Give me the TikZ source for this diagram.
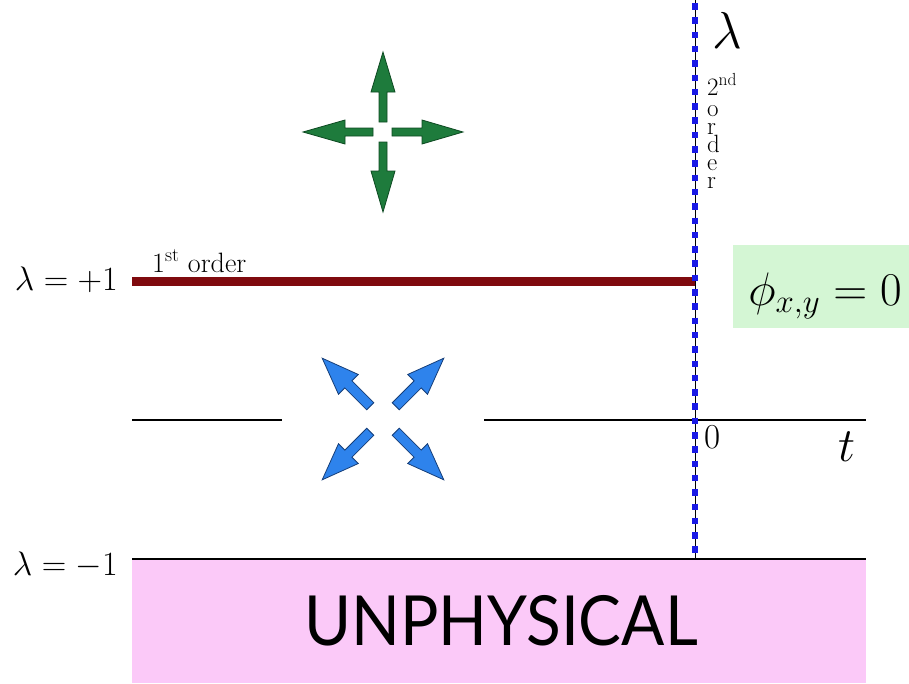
\RequirePackage{fix-cm}
\documentclass[tikz,border=0pt]{standalone}
\usepackage{fontspec}
\newfontfamily\gillish{Lato}
\usetikzlibrary{calc}
\definecolor{darkred}{HTML}{7F0A0E}
\definecolor{dotblue}{HTML}{1A1AE6}
\definecolor{greenarrow}{HTML}{1E7B3C}
\definecolor{greenedge}{HTML}{0E4A22}
\definecolor{bluearrow}{HTML}{2E83EC}
\definecolor{blueedge}{HTML}{163E78}
\definecolor{phibox}{HTML}{D4F6D4}
\definecolor{unphys}{HTML}{FBC9F8}
\tikzset{
  axisline/.style={line width=2pt, black},
  firstorder/.style={line width=9pt, darkred},
  lbl/.style={inner sep=0pt, anchor=east, font=\fontsize{34}{38}\selectfont},
  garrow/.style={fill=greenarrow, draw=greenedge, line width=0.8pt, line join=miter},
  barrow/.style={fill=bluearrow, draw=blueedge, line width=0.8pt, line join=miter},
}
% arrow shape: along +x from tail to tip
\newcommand{\fatarrow}[8]{% center, angle, tail, base, tip, half shaft, half head, style
  \begin{scope}[shift={#1}, rotate=#2]
    \path[#8] (#3,-#6) -- (#4,-#6) -- (#4,-#7) -- (#5,0) -- (#4,#7) -- (#4,#6) -- (#3,#6) -- cycle;
  \end{scope}}
\begin{document}
\begin{tikzpicture}[x=1pt,y=-1pt]
\useasboundingbox (0,0) rectangle (909,683);
% unphysical region
\node[fill=unphys, minimum width=734pt, minimum height=124pt, inner sep=0pt, anchor=north west] (unph) at (132,559) {};
\node[font=\gillish\fontsize{64}{70}\selectfont, yscale=1.08] (unphtxt) at (501,621) {UNPHYSICAL};
% coordinates
\coordinate (lmL) at (132,559);
\coordinate (lmR) at (866,559);
\coordinate (tL) at (132,420);
\coordinate (tGapL) at (282,420);
\coordinate (tGapR) at (484,420);
\coordinate (tR) at (866,420);
\coordinate (rL) at (132,281);
\coordinate (rR) at (695,281);
\coordinate (vTop) at (695,0);
\coordinate (vBot) at (695,559);
% lines
\draw[axisline] (lmL) -- (lmR);
\draw[axisline] (tL) -- (tGapL);
\draw[axisline] (tGapR) -- (tR);
\draw[firstorder] (rL) -- (rR);
\draw[black, line width=0.8pt] (vTop) -- (vBot);
\draw[dotblue, line width=6.5pt, dash pattern=on 6.5pt off 7.8pt, dash phase=-3pt] (vTop) -- (vBot);
% labels
\node[lbl] (lp1) at (118,280) {$\lambda=+1$};
\node[lbl] (lm1) at (118,565) {$\lambda=-1$};
\node[inner sep=0pt, anchor=base west, font=\fontsize{28}{32}\selectfont] (fo) at (152,272) {1\textsuperscript{st} order};
\node[inner sep=0pt, font=\fontsize{52}{56}\selectfont] (lamtop) at (727,30) {$\lambda$};
\node[inner sep=0pt, anchor=base west, align=left, font=\fontsize{25}{18}\selectfont] (so) at (707,188) {2\textsuperscript{nd}\\[3pt]o\\r\\d\\e\\r};
\node[inner sep=0pt, font=\fontsize{35}{38}\selectfont] (zero) at (713,437) {0};
\node[inner sep=0pt, font=\fontsize{48}{52}\selectfont] (tlab) at (847,447) {$t$};
\node[fill=phibox, minimum width=176pt, minimum height=83pt, inner sep=0pt, anchor=north west] (phib) at (733,245) {};
\node[font=\fontsize{47}{50}\selectfont, inner sep=0pt, anchor=base] (phit) at (825,305) {$\phi_{x,y}=0$};
% green arrows (outward)
\coordinate (gc) at (383,132);
\fatarrow{(gc)}{0}{9}{39}{80}{4}{12}{garrow}
\fatarrow{(gc)}{90}{10}{40}{80}{4}{12}{garrow}
\fatarrow{(gc)}{180}{10}{38}{80}{4}{12}{garrow}
\fatarrow{(gc)}{270}{10}{39}{80}{4}{12}{garrow}
% blue arrows (diagonal)
\coordinate (bc) at (383,419);
\fatarrow{(bc)}{45}{18}{49}{86}{5}{14}{barrow}
\fatarrow{(bc)}{135}{18}{49}{86}{5}{14}{barrow}
\fatarrow{(bc)}{225}{18}{49}{86}{5}{14}{barrow}
\fatarrow{(bc)}{315}{18}{49}{86}{5}{14}{barrow}
\end{tikzpicture}
\end{document}
